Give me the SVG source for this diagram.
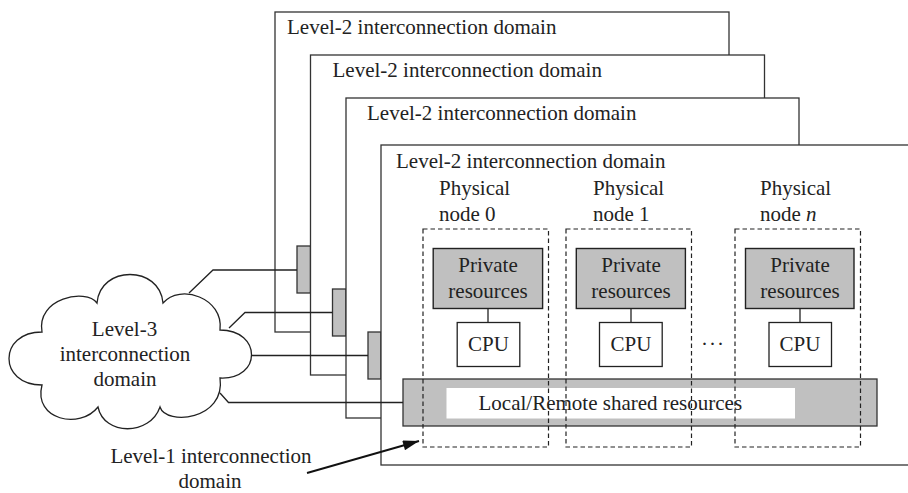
<svg xmlns="http://www.w3.org/2000/svg" width="908" height="493" viewBox="0 0 908 493">
  <defs>
    <style>
      text { font-family: "Liberation Serif", "Times New Roman", serif; font-size: 21px; fill: #222; }
      .mid { text-anchor: middle; }
      .domain { fill: #fff; stroke: #333; stroke-width: 1.3; }
      .bar { fill: #c0c0c0; stroke: #333; stroke-width: 1.3; }
      .hole { fill: #fff; stroke: none; }
      .dash { fill: none; stroke: #222; stroke-width: 1.2; stroke-dasharray: 4.5 3; }
      .priv { fill: #c0c0c0; stroke: #222; stroke-width: 1.4; }
      .cpu { fill: #fff; stroke: #222; stroke-width: 1.3; }
      .wire { fill: none; stroke: #222; stroke-width: 1.3; }
      .cloud { fill: #fff; stroke: #222; stroke-width: 1.3; }
    </style>
    <marker id="arrowhead" viewBox="0 0 10 10" refX="10" refY="5" markerWidth="9" markerHeight="9" markerUnits="userSpaceOnUse" orient="auto">
      <path d="M0,0 L10,5 L0,10 Z" fill="#111"/>
    </marker>
    <marker id="arrowhead-big" viewBox="0 0 16 10" refX="16" refY="5" markerWidth="17" markerHeight="10" markerUnits="userSpaceOnUse" orient="auto">
      <path d="M0,0 L16,5 L0,10 Z" fill="#111"/>
    </marker>
  </defs>

  <!-- stacked level-2 domains, back to front -->
  <g id="domain-1">
    <rect class="domain" x="275" y="12" width="454" height="320"/>
    <text x="287" y="33.5">Level-2 interconnection domain</text>
    <rect class="bar" x="297" y="246" width="13.5" height="47"/>
  </g>
  <g id="domain-2">
    <rect class="domain" x="310.5" y="55" width="454" height="320"/>
    <text x="332.5" y="77">Level-2 interconnection domain</text>
    <rect class="bar" x="332.5" y="289" width="13.5" height="47"/>
  </g>
  <g id="domain-3">
    <rect class="domain" x="346" y="98" width="453" height="320"/>
    <text x="367" y="120">Level-2 interconnection domain</text>
    <rect class="bar" x="368" y="332" width="13" height="47"/>
  </g>
  <g id="domain-4">
    <rect class="domain" x="381" y="145" width="545" height="320"/>
    <text x="396" y="168">Level-2 interconnection domain</text>
  </g>

  <g id="shared-resources">
    <rect class="bar" x="403" y="379" width="474" height="47"/>
    <rect class="hole" x="446.5" y="388" width="348.5" height="30.5"/>
    <text x="478.5" y="409.5">Local/Remote shared resources</text>
  </g>

  <!-- physical nodes -->
  <g id="node-0">
    <text x="439" y="195">Physical</text>
    <text x="439" y="220.5">node 0</text>
    <rect class="dash" x="423" y="229" width="125.5" height="218"/>
    <rect class="priv" x="433.2" y="248.5" width="109.4" height="60"/>
    <text class="mid" x="488" y="271.5">Private</text>
    <text class="mid" x="488" y="297.5">resources</text>
    <line class="wire" x1="488" y1="308.5" x2="488" y2="322.5"/>
    <rect class="cpu" x="457.2" y="322.5" width="62.6" height="44"/>
    <text class="mid" x="488.5" y="351">CPU</text>
  </g>
  <g id="node-1">
    <text x="593" y="195">Physical</text>
    <text x="593" y="220.5">node 1</text>
    <rect class="dash" x="566" y="229" width="125.5" height="218"/>
    <rect class="priv" x="576.3" y="248.5" width="109.1" height="60"/>
    <text class="mid" x="631" y="271.5">Private</text>
    <text class="mid" x="631" y="297.5">resources</text>
    <line class="wire" x1="631" y1="308.5" x2="631" y2="322.5"/>
    <rect class="cpu" x="599.5" y="322.5" width="62.7" height="44"/>
    <text class="mid" x="631" y="351">CPU</text>
  </g>
  <text id="ellipsis" x="701" y="351" letter-spacing="1">···</text>
  <g id="node-n">
    <text x="760" y="195">Physical</text>
    <text x="760" y="220.5">node <tspan font-style="italic">n</tspan></text>
    <rect class="dash" x="735" y="229" width="125.5" height="218"/>
    <rect class="priv" x="745.5" y="248.5" width="108.5" height="60"/>
    <text class="mid" x="800" y="271.5">Private</text>
    <text class="mid" x="800" y="297.5">resources</text>
    <line class="wire" x1="800" y1="308.5" x2="800" y2="322.5"/>
    <rect class="cpu" x="769" y="322.5" width="62.5" height="44"/>
    <text class="mid" x="800" y="351">CPU</text>
  </g>

  <!-- level-3 cloud -->
  <g id="level-3-cloud">
    <path class="cloud" d="M97,303 C100,265 160,265 163,303 C180,283 224,298 220,330 C262,330 262,380 220,378 C226,420 166,426 160,407 C150,436 104,436 98,407 C80,430 33,420 42,385 C-2,385 -2,332 42,332 C36,298 86,288 97,303 Z"/>
    <text class="mid" x="124.5" y="336">Level-3</text>
    <text class="mid" x="125" y="361">interconnection</text>
    <text class="mid" x="125" y="385.5">domain</text>
  </g>

  <g id="level-1-label">
    <text class="mid" x="211" y="463">Level-1 interconnection</text>
    <text class="mid" x="210" y="487.5">domain</text>
  </g>

  <!-- links from the cloud to each domain's shared bar, plus the level-1 pointer -->
  <g id="connectors">
    <polyline class="wire" points="189,293 213,270 297,270"/>
    <polyline class="wire" points="229,328 245,312.5 332.5,312.5"/>
    <polyline class="wire" points="252,355.5 368,355.5"/>
    <polyline class="wire" points="220,393 228.5,402.5 403,402.5"/>
    <line x1="307" y1="473" x2="419" y2="441" stroke="#111" stroke-width="2" marker-end="url(#arrowhead-big)"/>
  </g>
</svg>
